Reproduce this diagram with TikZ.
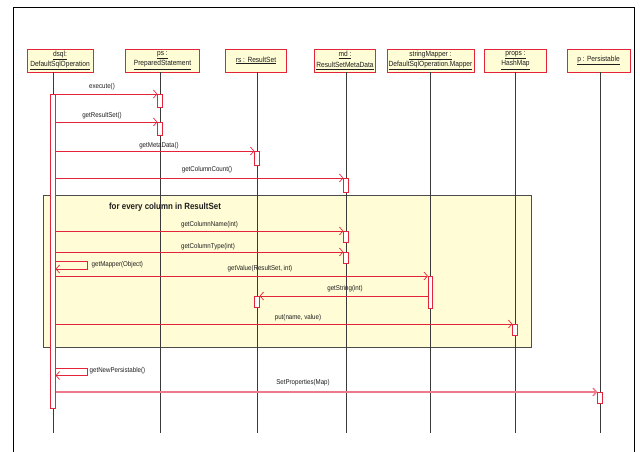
\documentclass[tikz,border=0pt]{standalone}
\usepackage{fontspec}
\setmainfont{Liberation Sans}[FakeStretch=0.88]
\usetikzlibrary{arrows.meta}
\definecolor{umlred}{HTML}{E3243B}
\definecolor{umlpink}{HTML}{EC7A88}
\definecolor{boxfill}{HTML}{FFFDD5}
\definecolor{loopfill}{HTML}{FFFCD6}
\definecolor{txt}{HTML}{1E1E1E}
\definecolor{lifegray}{HTML}{3A3A3A}
\begin{document}
\begin{tikzpicture}[x=1pt,y=-1pt,
  obj/.style={draw=umlred, line width=0.9pt, fill=boxfill, minimum height=23pt,
    inner sep=1pt, align=center, font=\fontsize{7.5}{10.5}\selectfont, text=txt},
  life/.style={draw=lifegray, line width=0.8pt},
  act/.style={draw=umlred, fill=white, line width=0.7pt, minimum width=4.5pt,
    inner sep=0pt, anchor=north},
  msg/.style={draw=umlred, line width=0.7pt, -{Straight Barb[length=3.5pt,width=8pt]}},
  lbl/.style={font=\fontsize{7}{8}\selectfont, text=txt, inner sep=0pt},
]
\useasboundingbox (0,0) rectangle (640,452);

% outer frame
\draw[black, line width=0.8pt] (13,452) -- (13,7) -- (634,7) -- (634,452);

% object headers
\node[obj, minimum width=66pt] (hd) at (60,60.5) {\underline{dsql:}\\\underline{DefaultSqlOperation}};
\node[obj, minimum width=74pt] (hps) at (162.5,60.5) {\underline{ps :}\\\underline{PreparedStatement}};
\node[obj, minimum width=61pt] (hrs) at (256,60.5) {\underline{rs : ResultSet}};
\node[obj, minimum width=61pt] (hmd) at (345,60.5) {\underline{md :}\\\underline{ResultSetMetaData}};
\node[obj, minimum width=87pt] (hsm) at (430.5,60.5) {\underline{stringMapper :}\\\underline{DefaultSqlOperation.Mapper}};
\node[obj, minimum width=62pt] (hpr) at (515.5,60.5) {\underline{props :}\\\underline{HashMap}};
\node[obj, minimum width=63pt] (hp) at (598.5,60.5) {\underline{p : Persistable}};

% loop fragment
\fill[gray!80] (44.2,196.2) rectangle (532.2,348.2);
\node[draw=gray!60!black, line width=0.8pt, fill=loopfill, minimum width=488pt,
  minimum height=152pt, inner sep=0pt, anchor=north west] (loop) at (43,195) {};
\node[font=\bfseries\fontsize{9}{10}\selectfont, text=txt, inner sep=0pt] (looplbl) at (165,207) {for every column in ResultSet};

% lifeline ends
\coordinate (ed) at (53,433);
\coordinate (eps) at (160,433);
\coordinate (ers) at (257,433);
\coordinate (emd) at (346,433);
\coordinate (esm) at (430.5,433);
\coordinate (epr) at (515,433);
\coordinate (ep) at (600,433);

\draw[life] (hd.south -| ed) -- (ed);
\draw[life] (hps.south -| eps) -- (eps);
\draw[life] (hrs.south -| ers) -- (ers);
\draw[life] (hmd.south -| emd) -- (emd);
\draw[life] (hsm.south -| esm) -- (esm);
\draw[life] (hpr.south -| epr) -- (epr);
\draw[life] (hp.south -| ep) -- (ep);

% activation bars
\node[act, minimum height=314pt] (dA) at (53,94) {};
\node[act, minimum height=13pt] (psA1) at (160,94) {};
\node[act, minimum height=13pt] (psA2) at (160,122) {};
\node[act, minimum height=14pt] (rsA1) at (257,151) {};
\node[act, minimum height=14pt] (mdA1) at (346,178) {};
\node[act, minimum height=11pt] (mdA2) at (346,231) {};
\node[act, minimum height=11pt] (mdA3) at (346,252) {};
\node[act, minimum height=32pt] (smA) at (430.5,276) {};
\node[act, minimum height=11pt] (rsA2) at (257,296) {};
\node[act, minimum height=11pt] (prA) at (515,324) {};
\node[act, minimum height=11pt] (pA) at (600,392) {};

% messages
\draw[msg] (dA.east |- psA1.north) -- (psA1.north west);
\node[lbl] (l1) at (102,87) {execute()};
\draw[msg] (dA.east |- psA2.north) -- (psA2.north west);
\node[lbl] (l2) at (102,115.5) {getResultSet()};
\draw[msg] (dA.east |- rsA1.north) -- (rsA1.north west);
\node[lbl] (l3) at (159,145.5) {getMetaData()};
\draw[msg] (dA.east |- mdA1.north) -- (mdA1.north west);
\node[lbl] (l4) at (207,169.5) {getColumnCount()};
\draw[msg] (dA.east |- mdA2.north) -- (mdA2.north west);
\node[lbl] (l5) at (209.5,224.5) {getColumnName(int)};
\draw[msg] (dA.east |- mdA3.north) -- (mdA3.north west);
\node[lbl] (l6) at (208,246.5) {getColumnType(int)};

\coordinate (sa1) at (87,261);
\coordinate (sa2) at (87,269);
\draw[msg] (dA.east |- sa1) -- (sa1) -- (sa2) -- (dA.east |- sa2);
\node[lbl, anchor=west] (l7) at (91.5,264.5) {getMapper(Object)};

\draw[msg] (dA.east |- smA.north) -- (smA.north west);
\node[lbl] (l8) at (260,269) {getValue(ResultSet, int)};
\draw[msg] (smA.west |- rsA2.north) -- (rsA2.north east);
\node[lbl] (l9) at (345,289) {getString(int)};
\draw[msg] (dA.east |- prA.north) -- (prA.north west);
\node[lbl] (l10) at (298,317.5) {put(name, value)};

\coordinate (sb1) at (87,368);
\coordinate (sb2) at (87,375.5);
\draw[msg] (dA.east |- sb1) -- (sb1) -- (sb2) -- (dA.east |- sb2);
\node[lbl, anchor=west] (l11) at (89.5,371) {getNewPersistable()};

\draw[msg, draw=umlpink, line width=1.4pt] (dA.east |- pA.north) -- (pA.north west);
\node[lbl] (l12) at (303,383) {SetProperties(Map)};
\end{tikzpicture}
\end{document}
